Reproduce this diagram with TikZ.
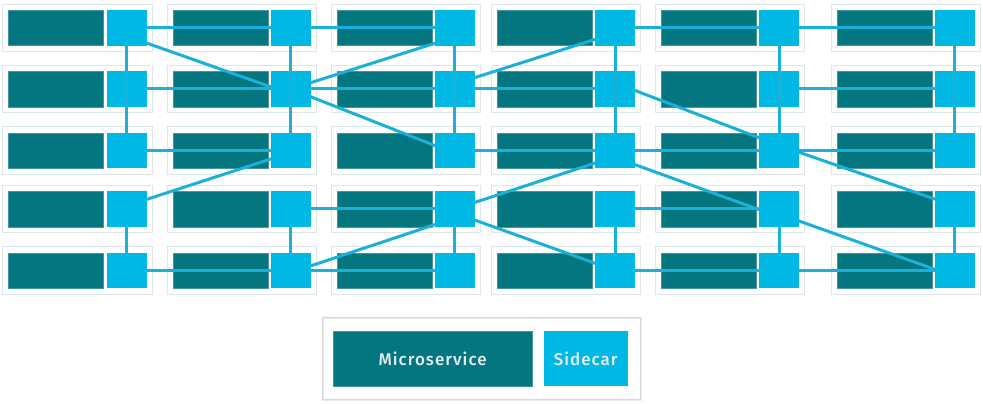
\documentclass[tikz,border=0pt]{standalone}
\usepackage{fontspec}
\setmainfont{Fira Sans}
\newfontfamily\legendfont{Fira Sans Medium}[LetterSpace=6]
\usetikzlibrary{calc,positioning}

\definecolor{serviceteal}{HTML}{04767F}
\definecolor{sidecarblue}{HTML}{00B8E4}
\definecolor{linkblue}{HTML}{1AB0D9}
\definecolor{podgray}{HTML}{DDE7EB}
\definecolor{legendgray}{HTML}{D6D6D6}
\definecolor{legendwhite}{HTML}{E2EEF2}

\pgfdeclarelayer{background}
\pgfdeclarelayer{links}
\pgfsetlayers{background,links,main}

\begin{document}
\begin{tikzpicture}[x=1pt, y=-1pt,
  pod/.style={draw=podgray, line width=0.8pt},
  service/.style={fill=serviceteal, draw=serviceteal!75!white, line width=0.5pt,
    inner sep=0pt, anchor=north west, minimum width=95pt, minimum height=35.5pt},
  sidecar/.style={fill=sidecarblue, inner sep=0pt, anchor=north west,
    minimum width=40pt, minimum height=35.5pt},
  link/.style={draw=linkblue, line width=3pt},
  legendtext/.style={text=legendwhite, font=\fontsize{17}{17}\selectfont\legendfont}]

\useasboundingbox (0,0) rectangle (983,404);

\foreach \c/\x in {1/8.3, 2/172.7, 3/336.7, 4/497, 5/661, 6/836.7}
  \foreach \r/\y in {1/10, 2/71, 3/132.5, 4/191, 5/252.5} {
    \begin{pgfonlayer}{background}
      \draw[pod] (\x-5.7, \y-6) rectangle (\x+143.8, \y+41.5);
      \node[service] (m\r\c) at (\x, \y) {};
    \end{pgfonlayer}
    \node[sidecar] (s\r\c) at (\x+98, \y) {};
  }

\begin{pgfonlayer}{links}
\draw[link] (s11) -- (s13) (s14) -- (s16)
  (s21) -- (s24) (s25) -- (s26)
  (s31) -- (s32) (s33) -- (s36)
  (s42) -- (s43) (s44) -- (s45)
  (s51) -- (s53) (s54) -- (s56);

\draw[link] ($(s11.center)+(0,8)$) -- ($(s22.center)+(0,5)$);
\draw[link] (s22.center) -- ($(s13.center)+(0,9)$);
\draw[link] (s22.center) -- ($(s33.center)+(0,3)$);
\draw[link] ($(s41.center)+(0,-3)$) -- ($(s32.center)+(0,2)$);
\draw[link] ($(s23.center)+(0,-5)$) -- ($(s14.center)+(0,5)$);
\draw[link] ($(s24.center)+(0,-6)$) -- ($(s35.center)+(0,-5)$);
\draw[link] (s43.center) -- ($(s34.center)+(0,6)$);
\draw[link] ($(s34.center)+(0,7)$) -- ($(s45.center)+(0,8)$);
\draw[link] ($(s35.center)+(0,-5)$) -- ($(s46.center)+(0,-3)$);
\draw[link] ($(s43.center)+(0,9)$) -- ($(s52.center)+(0,2)$);
\draw[link] ($(s43.center)+(0,4)$) -- (s54.center);
\draw[link] ($(s45.center)+(0,5)$) -- ($(s56.center)+(0,6)$);
\end{pgfonlayer}

\foreach \c in {1,...,6}
  \draw[link] (s1\c) -- (s3\c) (s4\c) -- (s5\c);

\draw[legendgray!50, line width=1.2pt] (322.9, 318.2) rectangle (641, 400.2);
\node[draw=legendgray, line width=0.8pt, inner sep=0pt, anchor=north west,
  minimum width=318.3pt, minimum height=82pt] (legend) at (321.7, 317) {};
\node[service, legendtext, minimum width=198.7pt, minimum height=55pt]
  (msvc) at (333, 331) {Microservice};
\node[sidecar, legendtext, minimum width=84pt, minimum height=55pt,
  right=11.3pt of msvc] (scar) {Sidecar};

\end{tikzpicture}
\end{document}
